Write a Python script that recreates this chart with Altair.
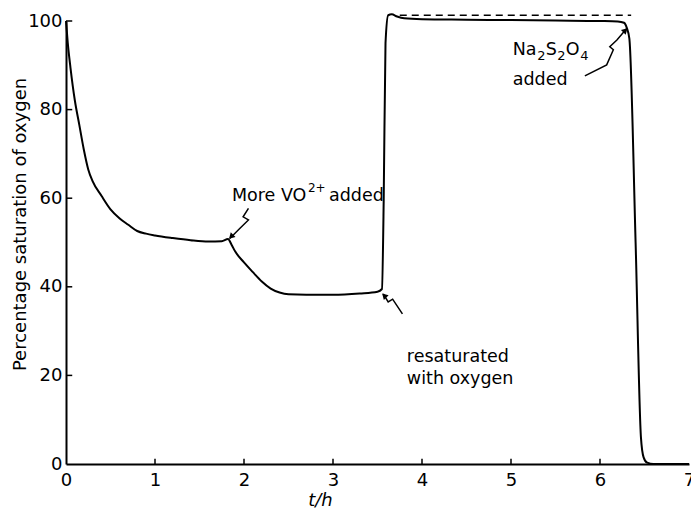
import altair as alt
import pandas as pd

# main trace: time (h) and percentage saturation of oxygen
t_h = [0, 0.02, 0.05, 0.1, 0.15, 0.2, 0.25, 0.3, 0.4, 0.5, 0.6, 0.7, 0.8, 0.9,
       1.0, 1.2, 1.4, 1.6, 1.75, 1.82, 1.86, 1.9, 2.0, 2.1, 2.2, 2.3, 2.4, 2.5,
       2.7, 3.0, 3.3, 3.5, 3.55, 3.57, 3.59, 3.62, 3.66, 3.72, 3.8, 4.0, 4.5,
       5.0, 5.5, 6.0, 6.2, 6.27, 6.3, 6.33, 6.4, 6.46, 6.49, 6.53, 6.6, 7.0]
sat = [100, 95, 89.5, 82, 76.5, 71, 66.5, 63.8, 60.5, 57.5, 55.5, 54, 52.6, 52,
       51.6, 51, 50.5, 50.2, 50.3, 50.8, 49.5, 48, 45.5, 43.3, 41.2, 39.6, 38.7, 38.3,
       38.2, 38.2, 38.5, 38.9, 39.5, 60, 95, 101.3, 101.5, 101, 100.6, 100.4, 100.3,
       100.2, 100.1, 100, 99.9, 99.6, 98.5, 96, 50, 6, 1.5, 0.3, 0, 0]

# dashed reference level
dash_t = [3.75, 6.35]
dash_v = [101.3, 101.3]

# tick values
x_ticks = [0, 1, 2, 3, 4, 5, 6, 7]
y_ticks = [0, 20, 40, 60, 80, 100]

# annotation text pieces (anchor in data units; sub/superscripts as separate pieces)
ann_label = ["More VO", "2+", "added",
             "resaturated", "with oxygen",
             "Na", "2", "S", "2", "O", "4", "added"]
ann_t = [1.865, 1.865, 1.865,
         3.83, 3.83,
         5.02, 5.02, 5.02, 5.02, 5.02, 5.02, 5.02]
ann_v = [60.5, 60.5, 60.5,
         24.2, 19.2,
         93.5, 93.5, 93.5, 93.5, 93.5, 93.5, 86.7]
ann_kind = ["n", "sup", "n",
            "n", "n",
            "n", "sub", "n", "sub", "n", "sub", "n"]
ann_shift = [0, 76, 97,
             0, 0,
             0, 24.5, 33, 44.5, 53, 67.5, 0]

# annotation arrows (squiggle paths, data units)
arrow_id = ["vo"] * 5 + ["re"] * 4 + ["na"] * 6
arrow_t = [2.05, 1.99, 2.05, 1.955, 1.84,
           3.78, 3.67, 3.62, 3.565,
           5.83, 6.075, 6.15, 6.11, 6.19, 6.30]
arrow_v = [57.7, 55.8, 55.1, 53.2, 50.9,
           33.9, 37.2, 36.6, 38.4,
           87.6, 90.1, 93.5, 94.2, 95.7, 98.3]
head_t = [1.855, 3.575, 6.285]
head_v = [51.3, 38.0, 97.9]
head_angle = [225, 315, 45]

FONT = "DejaVu Sans"
ANN_SIZE = 17.5

trace = pd.DataFrame({"t": t_h, "v": sat, "i": range(len(t_h))})
dash = pd.DataFrame({"t": dash_t, "v": dash_v})
xt = pd.DataFrame({"t": x_ticks[1:-1], "v0": 0, "v1": 1.2})
yt = pd.DataFrame({"v": y_ticks[1:], "t0": 0, "t1": 0.07})
arr = pd.DataFrame({"t": arrow_t, "v": arrow_v, "id": arrow_id, "i": range(len(arrow_t))})
heads = pd.DataFrame({"t": head_t, "v": head_v, "a": head_angle})

xscale = alt.Scale(domain=[0, 7], nice=False)
yscale = alt.Scale(domain=[0, 100], nice=False)

xax = alt.Axis(values=x_ticks, format="d", ticks=False, grid=False, labelPadding=7,
               labelFlush=False, labelOverlap=False,
               title="t/h", titleFontStyle="italic", titleFontWeight="normal",
               titleX=254, titleY=36, titleFontSize=18, titleFont=FONT,
               titleBaseline="middle", titleAlign="center")
yax = alt.Axis(values=y_ticks, format="d", ticks=False, grid=False, labelPadding=4,
               labelFlush=False, labelOverlap=False,
               title="Percentage saturation of oxygen", titleFontWeight="normal",
               titleX=-46, titleY=203, titleFontSize=18, titleFont=FONT,
               titleBaseline="middle", titleAlign="center")

base_line = alt.Chart(trace).mark_line(color="black", strokeWidth=2, interpolate="monotone").encode(
    x=alt.X("t:Q", scale=xscale, axis=xax),
    y=alt.Y("v:Q", scale=yscale, axis=yax),
    order="i:Q",
)

dash_line = alt.Chart(dash).mark_line(color="black", strokeWidth=1.5, strokeDash=[7, 5]).encode(
    x=alt.X("t:Q", scale=xscale), y=alt.Y("v:Q", scale=yscale)
)

xtick = alt.Chart(xt).mark_rule(color="black", strokeWidth=1.5).encode(
    x=alt.X("t:Q", scale=xscale), y=alt.Y("v0:Q", scale=yscale), y2="v1:Q"
)
ytick = alt.Chart(yt).mark_rule(color="black", strokeWidth=1.5).encode(
    y=alt.Y("v:Q", scale=yscale), x=alt.X("t0:Q", scale=xscale), x2="t1:Q"
)

text_layers = []
for lab, tt, vv, kind, sh in zip(ann_label, ann_t, ann_v, ann_kind, ann_shift):
    if kind == "sup":
        size, dy = 12, -8
    elif kind == "sub":
        size, dy = 13, 6
    else:
        size, dy = ANN_SIZE, 0
    df = pd.DataFrame({"t": [tt], "v": [vv], "label": [lab]})
    text_layers.append(
        alt.Chart(df).mark_text(align="left", baseline="middle", font=FONT, fontSize=size,
                                color="black", dx=sh, dy=dy).encode(
            x=alt.X("t:Q", scale=xscale), y=alt.Y("v:Q", scale=yscale), text="label:N"
        )
    )

arrows = alt.Chart(arr).mark_line(color="black", strokeWidth=1.5).encode(
    x=alt.X("t:Q", scale=xscale), y=alt.Y("v:Q", scale=yscale), detail="id:N", order="i:Q"
)
arrowheads = alt.Chart(heads).mark_point(shape="triangle-up", filled=True, color="black", size=45, opacity=1).encode(
    x=alt.X("t:Q", scale=xscale), y=alt.Y("v:Q", scale=yscale), angle=alt.Angle("a:Q", scale=None)
)

chart = alt.layer(base_line, dash_line, xtick, ytick, arrows, arrowheads, *text_layers).properties(
    width=623, height=443,
    padding={"left": 66, "top": 21, "right": 2, "bottom": 44},
    autosize=alt.AutoSizeParams(type="none"),
).configure_view(stroke=None).configure_axis(
    domainColor="black", domainWidth=2, labelColor="black", labelFont=FONT,
    labelFontSize=18, titleColor="black"
)

chart.save("out.html", embed_options={"renderer": "svg", "actions": False})
